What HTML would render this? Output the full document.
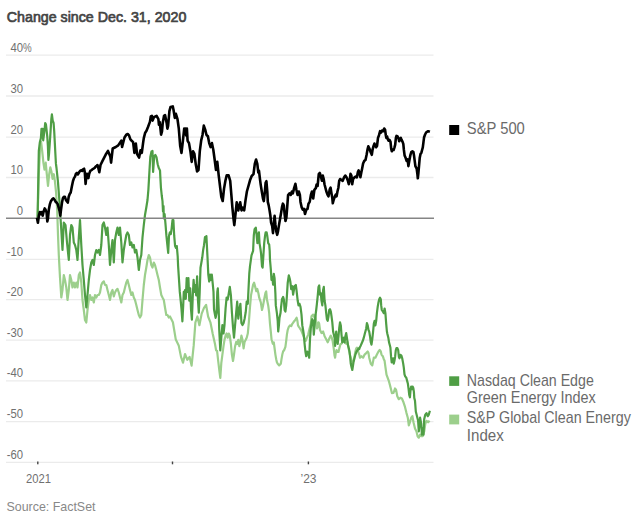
<!DOCTYPE html>
<html><head><meta charset="utf-8"><style>
html,body{margin:0;padding:0;background:#fff;}
body{width:635px;height:520px;overflow:hidden;position:relative;font-family:"Liberation Sans",sans-serif;}
svg{position:absolute;left:0;top:0;}
</style></head><body>
<svg width="635" height="520" viewBox="0 0 635 520" font-family="Liberation Sans, sans-serif">
<text x="6.8" y="21.8" font-size="15" fill="#444" stroke="#444" stroke-width="0.7" textLength="179.5" lengthAdjust="spacingAndGlyphs">Change since Dec. 31, 2020</text>
<line x1="6" y1="55.1" x2="433.5" y2="55.1" stroke="#ebebeb" stroke-width="1.3"/>
<line x1="6" y1="96.0" x2="433.5" y2="96.0" stroke="#ebebeb" stroke-width="1.3"/>
<line x1="6" y1="137.1" x2="433.5" y2="137.1" stroke="#ebebeb" stroke-width="1.3"/>
<line x1="6" y1="177.5" x2="433.5" y2="177.5" stroke="#ebebeb" stroke-width="1.3"/>
<line x1="6" y1="259.3" x2="433.5" y2="259.3" stroke="#ebebeb" stroke-width="1.3"/>
<line x1="6" y1="299.6" x2="433.5" y2="299.6" stroke="#ebebeb" stroke-width="1.3"/>
<line x1="6" y1="340.1" x2="433.5" y2="340.1" stroke="#ebebeb" stroke-width="1.3"/>
<line x1="6" y1="380.8" x2="433.5" y2="380.8" stroke="#ebebeb" stroke-width="1.3"/>
<line x1="6" y1="421.6" x2="433.5" y2="421.6" stroke="#ebebeb" stroke-width="1.3"/>
<line x1="6" y1="462.4" x2="433.5" y2="462.4" stroke="#ebebeb" stroke-width="1.3"/>
<text transform="translate(23,51.6) scale(0.87,1)" font-size="13" fill="#707070" text-anchor="end">40</text>
<text transform="translate(23,92.5) scale(0.87,1)" font-size="13" fill="#707070" text-anchor="end">30</text>
<text transform="translate(23,133.6) scale(0.87,1)" font-size="13" fill="#707070" text-anchor="end">20</text>
<text transform="translate(23,174.0) scale(0.87,1)" font-size="13" fill="#707070" text-anchor="end">10</text>
<text transform="translate(23,214.8) scale(0.87,1)" font-size="13" fill="#707070" text-anchor="end">0</text>
<text transform="translate(23,255.8) scale(0.87,1)" font-size="13" fill="#707070" text-anchor="end">-10</text>
<text transform="translate(23,296.1) scale(0.87,1)" font-size="13" fill="#707070" text-anchor="end">-20</text>
<text transform="translate(23,336.6) scale(0.87,1)" font-size="13" fill="#707070" text-anchor="end">-30</text>
<text transform="translate(23,377.3) scale(0.87,1)" font-size="13" fill="#707070" text-anchor="end">-40</text>
<text transform="translate(23,418.1) scale(0.87,1)" font-size="13" fill="#707070" text-anchor="end">-50</text>
<text transform="translate(23,458.9) scale(0.87,1)" font-size="13" fill="#707070" text-anchor="end">-60</text>
<text transform="translate(23,51.8) scale(0.75,1)" font-size="13" fill="#707070">%</text>
<rect x="37.1" y="461.5" width="1.4" height="2.8" fill="#444"/>
<rect x="171.8" y="461.5" width="1.4" height="2.8" fill="#444"/>
<rect x="307.7" y="461.5" width="1.4" height="2.8" fill="#444"/>
<text x="38.5" y="482.5" font-size="13" fill="#707070" text-anchor="middle" textLength="25" lengthAdjust="spacingAndGlyphs">2021</text>
<text x="308.5" y="482.5" font-size="13" fill="#707070" text-anchor="middle" textLength="16" lengthAdjust="spacingAndGlyphs">’23</text>
<text x="6.5" y="511" font-size="13" fill="#888" textLength="89" lengthAdjust="spacingAndGlyphs">Source: FactSet</text>
<path d="M37.6,218.0 L38.8,174.2 L39.9,151.2 L41.1,141.9 L42.2,151.2 L43.4,162.7 L44.5,169.6 L45.7,162.7 L46.8,174.2 L48.0,185.8 L49.2,174.2 L50.3,167.3 L51.5,171.9 L52.6,178.8 L53.8,174.2 L54.9,181.2 L56.1,192.7 L57.2,210.0 L58.0,235.0 L58.8,255.0 L60.0,277.5 L61.3,297.5 L62.5,290.0 L63.8,275.0 L65.0,280.0 L66.3,287.5 L67.5,300.0 L68.8,290.0 L70.0,275.0 L71.3,280.0 L72.5,287.5 L73.8,282.5 L75.0,287.5 L76.3,282.5 L77.5,287.5 L78.8,275.0 L80.0,272.5 L81.3,282.5 L82.5,300.0 L83.8,310.0 L85.0,320.0 L86.3,322.5 L87.5,310.0 L88.8,300.0 L90.0,295.0 L91.3,300.0 L92.5,297.5 L93.8,302.5 L95.0,295.0 L96.3,297.5 L97.5,295.0 L98.8,295.0 L100.0,292.5 L101.3,285.0 L102.5,282.5 L103.8,281.3 L105.0,285.0 L106.3,285.0 L107.5,290.0 L108.8,295.0 L110.0,300.0 L111.3,292.5 L112.5,290.0 L113.8,296.3 L115.0,292.5 L116.3,290.0 L117.5,288.8 L118.8,292.5 L120.0,297.5 L121.3,302.5 L122.5,295.0 L123.8,292.5 L125.0,287.5 L126.3,282.5 L127.5,280.0 L128.8,285.0 L130.0,290.0 L131.3,295.0 L132.5,292.5 L133.8,297.5 L135.0,300.0 L136.3,305.0 L137.5,310.0 L138.8,315.0 L140.0,317.5 L141.3,315.0 L142.5,300.0 L143.8,285.0 L145.0,275.0 L146.3,267.5 L147.5,260.0 L148.8,255.0 L150.0,257.5 L151.3,265.0 L152.5,267.5 L153.8,262.5 L155.0,265.0 L156.3,270.0 L157.5,275.0 L158.8,280.0 L160.0,287.5 L161.3,295.0 L162.5,297.5 L163.8,300.0 L165.0,307.5 L166.3,315.0 L167.5,315.0 L168.8,317.5 L170.0,316.5 L172.9,322.3 L175.8,339.6 L178.7,345.4 L181.0,356.9 L183.0,362.7 L185.0,354.0 L187.3,359.8 L189.6,356.9 L191.6,365.6 L193.7,345.4 L195.4,322.3 L197.4,316.5 L199.4,325.2 L201.7,313.6 L204.0,307.9 L206.1,305.0 L208.1,316.5 L210.4,322.3 L212.7,333.8 L215.0,344.0 L216.1,350.4 L217.1,351.0 L218.2,361.0 L219.2,369.4 L220.3,377.9 L221.3,363.1 L222.4,354.6 L223.5,346.2 L224.5,339.8 L225.6,335.6 L226.6,333.5 L227.7,337.7 L228.8,333.5 L229.8,335.6 L230.9,344.0 L231.9,354.6 L233.0,361.0 L234.0,354.6 L235.1,346.2 L236.2,341.9 L237.2,344.0 L238.3,339.8 L239.3,346.2 L240.4,341.9 L241.4,335.6 L242.5,339.8 L243.6,348.3 L244.6,341.9 L245.7,339.8 L246.7,337.7 L247.8,333.5 L248.8,322.9 L249.9,308.1 L251.0,295.4 L253.1,284.8 L254.1,282.7 L255.2,286.9 L256.3,291.2 L257.3,289.0 L258.4,293.3 L259.2,297.7 L260.8,302.3 L262.0,310.0 L263.1,305.4 L264.2,299.2 L265.4,293.1 L266.2,291.5 L266.9,299.2 L268.2,305.4 L269.2,313.1 L270.0,323.8 L270.8,331.5 L271.5,339.2 L272.8,343.8 L273.8,342.3 L274.6,348.5 L275.4,354.6 L276.2,359.2 L276.9,362.3 L277.7,363.8 L279.2,365.4 L280.8,363.8 L281.5,359.2 L282.3,354.6 L283.1,351.5 L284.2,350.0 L285.4,346.9 L286.2,340.8 L286.9,334.6 L287.7,330.0 L288.8,326.9 L290.0,325.4 L291.2,326.2 L292.3,323.8 L293.4,322.3 L294.6,320.8 L295.8,319.2 L296.6,317.7 L297.4,320.8 L298.0,325.4 L298.9,326.9 L300.0,328.5 L301.1,330.0 L302.3,333.1 L303.5,336.2 L304.6,339.2 L305.7,340.8 L306.9,337.7 L308.2,334.6 L309.2,330.0 L310.8,323.8 L311.5,316.2 L313.1,314.6 L314.6,317.7 L315.4,314.6 L316.2,322.3 L316.9,328.5 L317.7,326.9 L318.5,322.3 L319.2,323.8 L320.0,330.0 L321.5,333.1 L323.1,331.5 L324.6,336.2 L326.2,339.2 L327.7,342.3 L329.8,337.5 L330.8,335.6 L331.7,337.5 L332.7,341.3 L333.7,348.1 L334.6,355.8 L335.1,357.7 L335.6,353.8 L336.5,350.0 L337.5,351.9 L338.5,351.9 L339.4,348.1 L340.5,344.0 L341.5,343.8 L343.1,340.8 L344.6,342.3 L346.2,343.8 L347.5,342.0 L348.5,348.0 L350.0,355.0 L351.5,360.0 L352.5,363.0 L353.8,360.0 L355.4,351.5 L356.2,348.5 L356.9,347.7 L358.2,351.5 L359.2,354.6 L360.0,357.7 L361.5,356.2 L363.1,357.7 L364.6,354.6 L366.2,353.1 L367.7,351.5 L368.5,353.1 L369.2,357.7 L370.8,363.8 L372.3,365.4 L373.8,357.7 L375.4,357.7 L376.9,354.6 L378.5,351.5 L379.7,350.0 L380.8,351.5 L381.5,354.6 L382.8,356.2 L383.8,359.2 L384.6,360.8 L385.4,366.9 L386.5,374.6 L388.8,380.8 L390.4,386.9 L391.9,393.1 L393.5,393.0 L395.0,388.5 L396.1,390.0 L397.3,396.2 L398.8,399.2 L400.4,397.7 L401.9,398.5 L403.5,402.3 L405.0,406.9 L406.5,413.1 L407.8,417.7 L408.8,425.4 L409.9,422.3 L411.2,417.7 L412.4,416.2 L413.5,422.3 L415.0,428.5 L416.5,431.5 L417.6,436.2 L418.8,437.7 L420.1,434.6 L421.2,436.2 L422.7,436.2 L424.2,431.5 L425.3,423.8 L426.5,420.8 L428.1,422.3 L429.6,420.8" fill="none" stroke="#9ccf8c" stroke-width="2.2" stroke-linejoin="round"/>
<path d="M37.6,218.0 L38.8,151.0 L39.8,142.6 L40.9,138.0 L41.5,128.8 L42.7,128.8 L43.2,140.3 L44.4,131.1 L45.2,123.0 L45.9,124.2 L46.7,131.1 L47.3,136.9 L47.9,146.1 L48.4,160.0 L49.0,154.2 L50.2,136.9 L51.3,119.5 L51.9,114.4 L52.7,120.7 L53.6,123.0 L54.2,131.1 L54.8,142.6 L55.4,154.2 L55.9,163.4 L56.5,168.0 L57.9,181.2 L59.5,201.9 L60.0,210.0 L61.3,230.0 L62.5,250.0 L63.8,222.5 L65.5,225.0 L67.0,242.5 L68.8,260.0 L70.0,235.0 L71.3,225.0 L72.5,227.5 L73.8,242.5 L75.0,245.0 L76.3,250.0 L77.5,260.0 L78.8,237.5 L80.0,220.0 L81.3,245.0 L82.5,265.0 L83.8,280.0 L85.0,295.0 L86.3,307.5 L87.5,295.0 L88.8,280.0 L90.0,270.0 L91.3,262.5 L92.5,260.0 L93.8,265.0 L95.0,255.0 L96.3,250.0 L97.5,252.5 L98.8,250.0 L100.0,255.0 L101.3,245.0 L102.5,225.0 L103.8,222.5 L105.0,227.5 L106.3,235.0 L107.5,227.5 L108.8,245.0 L110.0,265.0 L111.3,250.0 L112.5,240.0 L113.8,262.5 L115.0,240.0 L116.3,232.5 L117.5,227.5 L118.8,235.0 L120.0,227.5 L121.3,242.5 L122.5,262.5 L123.8,250.0 L125.0,242.5 L126.3,235.0 L127.5,232.5 L128.8,235.0 L130.0,245.0 L131.3,242.5 L132.5,247.5 L133.8,245.0 L135.0,252.5 L136.3,250.0 L137.5,257.5 L138.8,270.0 L140.0,260.0 L141.3,255.0 L142.5,237.5 L143.8,225.0 L145.0,215.0 L146.3,207.5 L147.5,200.0 L148.4,189.6 L149.5,170.0 L150.3,157.0 L151.5,151.5 L152.5,151.0 L153.1,172.0 L154.2,156.5 L155.4,155.0 L156.5,157.3 L157.7,164.2 L158.8,168.1 L160.0,170.4 L160.4,178.1 L160.9,187.3 L161.8,196.0 L162.5,201.1 L163.0,211.5 L163.5,206.0 L163.8,218.4 L164.6,214.0 L165.6,225.4 L166.4,235.7 L167.3,244.4 L168.2,253.0 L169.0,235.7 L169.9,232.3 L170.8,234.0 L171.6,228.8 L172.5,220.2 L173.4,220.2 L174.2,235.7 L175.1,246.1 L176.0,247.9 L176.8,246.1 L177.7,256.5 L178.1,266.0 L178.9,278.1 L179.8,291.9 L180.7,300.6 L181.5,309.2 L182.4,321.3 L183.2,305.7 L183.8,291.9 L184.5,298.8 L185.0,290.2 L185.8,298.8 L186.7,278.1 L187.6,291.9 L188.4,278.1 L189.3,300.6 L190.2,288.4 L191.0,309.2 L191.9,319.6 L192.8,295.4 L193.6,279.8 L194.5,291.9 L195.4,285.0 L196.2,295.4 L197.1,276.3 L198.0,300.6 L198.8,312.7 L199.7,291.9 L200.5,267.7 L201.4,262.5 L202.3,257.3 L203.1,250.4 L204.0,245.2 L205.0,237.0 L205.7,241.7 L206.4,236.0 L207.5,257.3 L208.3,274.6 L209.2,281.5 L210.1,274.6 L210.9,279.8 L211.8,274.6 L212.7,283.3 L213.5,291.9 L214.0,309.2 L214.9,314.4 L215.6,317.9 L216.6,312.7 L217.3,291.9 L217.8,288.4 L218.7,309.2 L219.2,329.2 L220.3,350.4 L221.3,337.7 L222.4,325.0 L223.5,333.5 L224.5,325.0 L225.6,308.1 L226.6,297.5 L227.7,299.6 L228.8,293.3 L229.8,286.9 L230.9,295.4 L231.9,312.3 L233.0,327.1 L234.0,337.7 L235.1,325.0 L236.2,312.3 L237.2,301.7 L238.3,318.7 L239.3,310.2 L240.4,303.8 L241.4,322.9 L242.5,325.0 L243.6,322.9 L244.6,318.7 L245.7,312.3 L246.7,301.7 L247.8,303.8 L248.4,291.2 L249.3,273.3 L250.0,266.2 L251.5,255.4 L253.1,250.8 L253.8,235.4 L254.6,229.2 L255.8,227.7 L256.5,233.8 L257.4,243.1 L258.0,235.4 L258.9,232.3 L259.5,243.1 L260.5,249.2 L261.1,253.8 L262.0,266.2 L262.6,267.7 L263.5,253.8 L264.2,243.1 L265.1,235.4 L265.7,232.3 L266.6,232.3 L267.2,235.4 L268.2,243.1 L269.2,244.6 L269.7,250.8 L270.0,260.0 L270.8,269.2 L271.5,280.0 L272.3,276.9 L273.1,284.6 L273.8,273.8 L274.6,278.5 L275.4,293.8 L275.8,305.4 L276.9,313.1 L277.7,320.8 L278.2,331.5 L278.9,325.4 L279.5,317.7 L280.5,313.1 L281.1,306.9 L282.0,299.2 L283.1,296.9 L283.8,299.2 L284.6,310.0 L285.4,311.5 L286.2,305.4 L286.9,296.0 L287.7,283.0 L288.8,275.4 L289.7,278.5 L290.3,281.5 L291.2,289.2 L292.3,286.2 L293.1,294.6 L294.6,286.0 L295.8,285.0 L296.5,290.0 L297.7,300.8 L298.5,305.4 L299.5,303.8 L300.5,306.9 L301.5,314.6 L302.3,325.4 L303.1,330.0 L303.8,334.6 L304.6,343.8 L305.4,351.5 L306.2,356.2 L307.2,351.5 L308.5,354.6 L309.2,357.7 L310.0,339.2 L310.8,328.5 L311.5,322.3 L312.3,319.2 L313.1,320.8 L313.8,334.6 L314.6,325.4 L315.4,316.2 L316.2,310.0 L316.9,303.8 L317.7,296.2 L318.5,286.9 L319.2,285.4 L320.0,294.6 L320.8,293.1 L321.5,300.8 L322.3,305.4 L323.1,290.0 L323.8,286.9 L324.6,300.8 L325.4,305.4 L326.2,313.1 L326.9,319.2 L327.7,320.8 L328.5,316.2 L329.2,310.0 L330.0,309.2 L330.8,311.5 L331.5,316.2 L332.3,322.3 L333.1,331.5 L333.8,334.6 L334.6,338.0 L335.1,346.0 L335.6,339.0 L336.2,331.5 L336.9,339.2 L337.7,343.8 L338.5,336.2 L339.2,328.5 L340.0,322.3 L340.8,325.4 L341.5,334.6 L342.3,342.3 L343.1,339.2 L343.8,337.7 L344.6,342.3 L345.4,336.2 L346.2,333.1 L346.9,337.7 L348.0,345.4 L348.9,348.5 L349.5,351.5 L350.2,357.7 L350.8,363.8 L351.5,366.9 L352.3,370.0 L353.5,362.3 L354.6,357.7 L355.4,354.6 L356.6,351.5 L357.7,350.0 L358.5,348.5 L359.2,349.2 L360.0,346.9 L360.8,345.4 L361.5,343.8 L362.8,340.8 L363.8,337.7 L364.6,334.6 L365.4,331.5 L366.2,328.5 L366.9,323.1 L367.7,325.4 L368.5,330.0 L369.2,331.5 L370.0,336.2 L370.8,342.3 L371.5,344.6 L372.3,339.2 L373.1,331.5 L373.8,323.8 L374.6,320.8 L375.4,325.4 L376.2,320.8 L376.9,313.1 L377.7,306.9 L378.5,302.3 L379.2,299.2 L380.0,297.7 L380.8,299.2 L381.2,305.4 L381.8,310.0 L382.8,311.5 L383.8,313.1 L384.6,308.5 L385.4,313.1 L386.2,323.8 L386.9,331.5 L387.4,334.0 L388.4,338.1 L389.0,342.1 L389.7,344.8 L390.4,347.5 L391.1,356.9 L391.7,362.3 L392.4,361.0 L393.1,358.3 L393.7,363.6 L394.4,361.0 L395.1,356.9 L395.8,350.2 L396.4,348.2 L397.4,348.2 L398.2,350.2 L398.9,356.9 L399.5,358.3 L400.5,354.9 L401.4,355.6 L402.2,358.3 L403.2,363.6 L403.8,367.7 L404.5,374.4 L405.2,376.4 L406.3,377.8 L407.2,381.1 L407.9,383.8 L408.6,389.2 L409.2,394.6 L409.9,397.3 L410.6,389.2 L411.2,386.5 L411.9,389.2 L412.6,386.5 L413.3,387.9 L413.9,391.9 L414.3,398.0 L415.0,400.8 L415.8,411.5 L417.0,416.2 L418.1,420.8 L418.8,431.5 L420.1,417.7 L421.2,423.8 L421.9,434.6 L422.7,428.5 L423.5,434.6 L424.2,419.2 L425.3,414.6 L426.5,413.1 L427.8,416.2 L428.8,414.6 L429.9,410.8" fill="none" stroke="#4f9e45" stroke-width="2.2" stroke-linejoin="round"/>
<line x1="6" y1="218.3" x2="434" y2="218.3" stroke="#858585" stroke-width="1.5"/>
<path d="M36.9,217.8 L37.9,222.8 L38.9,215.6 L39.8,212.0 L40.8,214.2 L41.8,212.0 L42.7,215.6 L43.7,211.3 L44.7,208.4 L45.6,209.8 L46.6,212.7 L47.3,221.4 L48.0,218.5 L48.8,209.8 L49.9,204.1 L50.9,201.2 L52.4,199.0 L53.4,198.3 L54.5,199.7 L55.7,201.9 L56.7,202.6 L57.7,204.1 L58.9,208.4 L59.6,211.3 L60.3,215.6 L61.0,209.8 L62.0,202.6 L62.9,198.3 L63.9,196.8 L64.9,196.8 L65.8,199.7 L66.8,201.2 L67.8,202.6 L68.7,196.8 L69.7,194.0 L70.7,192.5 L71.8,186.7 L73.0,181.0 L74.0,178.1 L75.0,176.6 L75.9,173.8 L76.9,173.0 L77.9,174.5 L79.1,172.3 L80.2,170.9 L81.2,170.2 L82.2,170.9 L83.1,169.4 L84.1,168.7 L84.8,172.3 L85.6,183.9 L86.3,176.6 L87.0,173.8 L87.7,175.2 L88.4,178.1 L89.2,173.8 L90.3,170.9 L91.3,170.2 L92.3,169.4 L93.5,168.7 L94.6,168.0 L95.7,166.5 L96.7,165.8 L97.5,165.1 L98.5,168.7 L99.3,172.3 L100.5,165.0 L102.4,161.1 L105.6,154.8 L108.0,150.9 L110.3,156.4 L111.1,162.7 L112.7,148.5 L115.8,147.0 L118.2,145.4 L121.3,140.7 L122.1,147.0 L124.5,137.5 L126.3,134.7 L127.7,134.0 L129.0,135.4 L130.4,139.4 L131.7,140.8 L133.1,142.1 L134.4,152.9 L135.1,144.8 L135.8,143.5 L137.1,154.2 L139.1,157.6 L140.5,150.2 L141.8,152.9 L143.2,142.1 L143.8,138.1 L145.2,132.7 L146.5,130.7 L147.9,127.3 L149.9,121.9 L150.8,116.5 L151.9,115.9 L152.6,120.6 L153.9,117.2 L156.6,115.9 L158.4,119.2 L158.9,124.6 L159.7,121.9 L161.1,134.7 L162.0,131.3 L162.7,123.3 L164.0,115.9 L165.1,115.2 L166.7,123.3 L167.4,128.6 L168.1,126.0 L169.4,111.2 L170.5,107.1 L172.8,106.4 L173.5,109.8 L174.8,117.9 L175.9,113.8 L177.5,119.2 L178.8,128.6 L180.2,146.1 L181.5,152.9 L182.9,140.8 L184.2,128.6 L184.9,132.7 L185.6,128.6 L186.2,135.4 L186.9,128.6 L187.6,140.8 L189.0,143.1 L190.4,151.2 L191.7,161.9 L193.1,151.2 L194.4,153.9 L195.8,164.6 L197.1,171.4 L198.5,170.0 L199.8,151.2 L201.2,140.4 L202.5,135.0 L203.8,125.6 L205.2,129.6 L206.5,135.0 L207.9,136.3 L209.2,143.1 L210.6,147.1 L211.9,143.1 L213.3,149.8 L214.6,159.2 L216.0,170.0 L217.3,161.9 L218.7,175.4 L220.0,186.2 L221.3,196.9 L222.7,201.0 L224.0,188.9 L225.4,180.8 L226.7,175.4 L228.6,175.4 L230.2,180.8 L231.3,194.2 L232.4,207.7 L233.5,218.5 L234.3,225.2 L235.6,213.1 L236.7,202.3 L238.3,210.4 L240.2,202.3 L241.5,210.4 L242.9,207.7 L244.2,210.4 L245.6,199.6 L246.9,191.5 L250.0,180.3 L251.7,176.0 L253.5,174.2 L254.8,163.8 L256.1,159.5 L257.3,163.8 L258.3,172.5 L259.0,170.8 L260.0,179.4 L260.7,184.6 L261.8,191.5 L263.0,198.5 L263.8,201.1 L264.7,193.3 L265.6,182.9 L266.4,181.2 L267.3,191.5 L267.8,201.9 L268.7,205.4 L269.6,210.6 L270.4,215.8 L271.1,222.7 L272.2,226.2 L273.0,233.1 L273.9,222.7 L274.6,215.8 L275.4,224.4 L276.3,231.4 L277.2,234.8 L278.0,231.4 L279.1,224.4 L280.3,217.5 L281.2,212.3 L282.0,207.1 L282.9,203.7 L283.8,205.4 L284.6,214.0 L285.5,221.0 L286.4,217.5 L287.2,207.1 L288.1,195.0 L289.5,193.3 L290.7,195.0 L291.9,191.5 L292.9,193.3 L294.1,188.1 L295.4,183.8 L296.4,189.8 L297.6,195.0 L298.8,191.5 L299.9,195.0 L300.5,201.9 L301.6,207.1 L302.8,209.7 L304.0,208.9 L305.0,214.0 L306.3,209.7 L307.5,208.9 L308.5,203.7 L309.7,201.9 L310.9,195.0 L312.0,191.5 L313.2,198.5 L314.4,189.8 L315.8,188.1 L316.6,184.6 L317.6,186.0 L318.8,173.9 L319.8,173.0 L321.1,177.3 L321.9,180.8 L322.8,175.6 L323.7,179.0 L324.5,184.2 L325.4,187.7 L326.3,191.2 L327.5,194.6 L328.5,196.4 L329.7,189.4 L330.6,187.7 L331.4,192.9 L332.3,198.1 L332.8,203.3 L333.7,199.8 L334.9,196.4 L335.8,194.6 L336.6,196.4 L337.5,191.2 L338.4,187.7 L339.2,180.8 L340.1,179.0 L341.3,179.9 L342.7,180.8 L344.1,177.3 L345.3,175.6 L346.5,177.3 L347.9,180.8 L348.8,184.2 L349.6,180.8 L350.5,173.9 L351.4,175.6 L352.2,184.2 L353.1,179.0 L354.5,177.3 L355.7,176.5 L356.9,177.3 L357.9,172.1 L358.6,170.4 L359.7,173.9 L360.4,177.3 L361.4,172.1 L362.1,168.7 L363.1,163.5 L364.3,160.9 L365.5,160.0 L366.6,154.8 L367.5,149.6 L368.3,146.2 L369.5,148.8 L370.7,152.2 L371.8,154.8 L372.6,149.6 L373.5,146.2 L374.4,143.6 L375.2,145.3 L376.1,147.3 L377.0,146.0 L378.0,137.9 L379.0,135.2 L380.1,131.2 L381.1,132.5 L382.0,130.5 L383.1,131.2 L384.2,128.5 L385.1,129.8 L385.8,135.2 L386.4,137.9 L387.1,136.5 L387.8,139.2 L388.5,140.6 L389.5,139.9 L390.5,141.9 L391.2,148.6 L391.8,151.3 L392.5,150.0 L393.6,150.0 L394.5,147.3 L395.2,144.6 L395.9,137.9 L396.5,135.9 L397.6,136.5 L398.6,138.6 L399.2,141.2 L399.9,139.2 L400.8,137.9 L401.6,139.9 L402.6,141.9 L403.3,143.9 L403.9,150.0 L404.6,155.4 L405.7,158.1 L406.6,160.8 L407.6,159.4 L408.4,166.1 L409.3,160.8 L410.3,155.4 L411.3,152.0 L412.4,151.3 L413.4,152.0 L414.0,155.4 L414.7,160.8 L415.4,166.1 L416.7,168.8 L417.4,174.2 L417.8,178.3 L418.3,174.2 L419.0,166.1 L419.7,158.1 L420.5,154.0 L421.4,152.7 L422.1,150.0 L422.8,147.3 L423.5,141.9 L424.1,137.2 L425.1,134.5 L426.1,132.5 L427.5,131.4 L428.8,131.4 L429.9,131.8" fill="none" stroke="#000" stroke-width="2.6" stroke-linejoin="round"/>
<rect x="449.2" y="125" width="10" height="10" fill="#000"/>
<text x="466.8" y="134.4" font-size="15.7" fill="#6a6a6a" textLength="58" lengthAdjust="spacingAndGlyphs">S&amp;P 500</text>
<rect x="449.2" y="376.3" width="10" height="9.6" fill="#4f9e45"/>
<text x="466.8" y="385.5" font-size="15.7" fill="#6a6a6a" textLength="127" lengthAdjust="spacingAndGlyphs">Nasdaq Clean Edge</text>
<text x="466.8" y="403.4" font-size="15.7" fill="#6a6a6a" textLength="129" lengthAdjust="spacingAndGlyphs">Green Energy Index</text>
<rect x="449.2" y="414.6" width="10" height="9.8" fill="#9ccf8c"/>
<text x="466.8" y="423.3" font-size="15.7" fill="#6a6a6a" textLength="164" lengthAdjust="spacingAndGlyphs">S&amp;P Global Clean Energy</text>
<text x="466.8" y="440.8" font-size="15.7" fill="#6a6a6a" textLength="37" lengthAdjust="spacingAndGlyphs">Index</text>
</svg>
</body></html>
